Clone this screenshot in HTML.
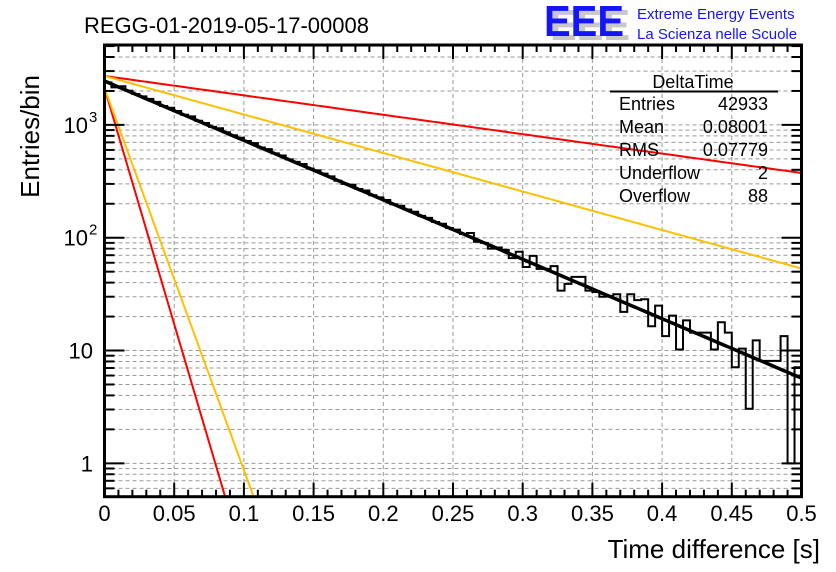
<!DOCTYPE html>
<html><head><meta charset="utf-8"><style>
html,body{margin:0;padding:0;background:#fff;}
svg{display:block;font-family:"Liberation Sans",sans-serif;}
</style></head><body>
<svg id="chart" width="836" height="572" viewBox="0 0 836 572" xmlns="http://www.w3.org/2000/svg">
<rect x="0" y="0" width="836" height="572" fill="#fff"/>
<text x="84" y="33" font-size="22" fill="#000">REGG-01-2019-05-17-00008</text>
<g>
<text x="550" y="40" font-size="44" font-weight="bold" fill="#c8c8c8" textLength="80" lengthAdjust="spacingAndGlyphs">EEE</text>
<text x="544" y="36" font-size="44" font-weight="bold" fill="#1414ff" textLength="80" lengthAdjust="spacingAndGlyphs">EEE</text>
<text x="637" y="19" font-size="15" fill="#1414ff">Extreme Energy Events</text>
<text x="637" y="39" font-size="15" fill="#1414ff">La Scienza nelle Scuole</text>
</g>
<g id="grid"></g>
<g id="series"></g>
<g id="axes"></g>
<g font-size="18" fill="#000">
<text x="693" y="88" text-anchor="middle">DeltaTime</text>
<line x1="610" y1="91.5" x2="778" y2="91.5" stroke="#000" stroke-width="2"/>
<text x="619" y="110">Entries</text><text x="768" y="110" text-anchor="end">42933</text>
<text x="619" y="133">Mean</text><text x="768" y="133" text-anchor="end">0.08001</text>
<text x="619" y="156">RMS</text><text x="768" y="156" text-anchor="end">0.07779</text>
<text x="619" y="179">Underflow</text><text x="768" y="179" text-anchor="end">2</text>
<text x="619" y="202">Overflow</text><text x="768" y="202" text-anchor="end">88</text>
</g>
<text x="820" y="558" font-size="26" text-anchor="end">Time difference [s]</text>
<text transform="translate(39,75) rotate(-90)" font-size="26" text-anchor="end">Entries/bin</text>
</svg>
<script>
const binCounts = [2380,2150,2200,2010,1880,1790,1700,1600,1470,1420,1330,1230,1190,1090,1040,960,935,860,810,770,720,690,630,610,560,535,495,470,450,410,395,370,350,320,300,295,270,262,238,228,216,198,192,178,170,156,150,138,133,122,118,108,110,92,90,80,82,78,66,75,55,69,53,53,56,34,39,45,45,34,33,30,30.5,31.5,22,31.5,28,28.5,16.4,25,13.4,20.4,10.2,18.5,14.4,14.4,14.4,10.2,17.8,14.4,7.1,10.4,3.05,12.3,8.1,8.1,8.1,13.4,1,7.1];
const binRange = [0, 0.5];
const xTicks = [0,0.05,0.1,0.15,0.2,0.25,0.3,0.35,0.4,0.45,0.5];
const xTickLabels = ["0","0.05","0.1","0.15","0.2","0.25","0.3","0.35","0.4","0.45","0.5"];
const yDecades = [1,10,100,1000];
const yDecadeLabels = ["1","10","10|2","10|3"];
const fitNames = ["fit","red-slow","yellow-slow","red-fast","yellow-fast"];
const fitAmps = [2450,2715,2715,2125,2125];
const fitSlopes = [12.13,3.96,7.86,96.4,78];
const fitColors = ["#000","#f00","#ffc000","#f00","#ffc000"];

const X0=104.5, X1=801.5, Y0=496.7, Y1=45;
const yMin=0.506, yMax=5110;
const NS="http://www.w3.org/2000/svg";
function xs(v){return X0+(v-binRange[0])/(binRange[1]-binRange[0])*(X1-X0);}
function ys(v){return Y0-(Math.log10(v)-Math.log10(yMin))/(Math.log10(yMax)-Math.log10(yMin))*(Y0-Y1);}
function mk(tag,attrs,parent){const e=document.createElementNS(NS,tag);for(const k in attrs)e.setAttribute(k,attrs[k]);parent.appendChild(e);return e;}
const grid=document.getElementById('grid'), series=document.getElementById('series'), axes=document.getElementById('axes');

// grid
xTicks.forEach(t=>{if(t>binRange[0]&&t<binRange[1]){const l=mk('line',{x1:xs(t),x2:xs(t),y1:Y1,y2:Y0,stroke:'#999','stroke-width':1,'stroke-dasharray':'4,3'},grid);

}});
for(let d=0.1; d<=1000; d*=10){for(let m=1;m<=9;m++){const v=d*m;if(v>yMin&&v<yMax){const y=ys(v);const l=mk('line',{x1:X0,x2:X1,y1:y,y2:y,stroke:'#999','stroke-width':1,'stroke-dasharray':'4,3'},grid);

}}}

// fit lines
fitAmps.forEach((A,i)=>{let pts=[];for(let k=0;k<=400;k++){const x=binRange[0]+(binRange[1]-binRange[0])*k/400;const v=A*Math.exp(-fitSlopes[i]*x);if(v<yMin){const xe=Math.log(A/yMin)/fitSlopes[i];pts.push(xs(xe)+','+Y0);break;}pts.push(xs(x).toFixed(2)+','+ys(v).toFixed(2));}
const p=mk('polyline',{points:pts.join(' '),fill:'none',stroke:fitColors[i],'stroke-width':i==0?3.5:2},series);

});

// histogram
const bw=(binRange[1]-binRange[0])/binCounts.length;
let d='';binCounts.forEach((c,i)=>{const xa=xs(binRange[0]+i*bw), xb=xs(binRange[0]+(i+1)*bw), y=ys(c);d+=(i==0?'M'+xa+','+y:'L'+xa+','+y)+'L'+xb+','+y;});
const h=mk('path',{d:d,fill:'none',stroke:'#000','stroke-width':2},series);


// redraw fit on top lightly
const fl=series.firstChild; series.appendChild(fl);

// frame
const fr=mk('rect',{x:X0,y:Y1,width:X1-X0,height:Y0-Y1,fill:'none',stroke:'#000','stroke-width':3},axes);


// x ticks
for(let k=0;k<=50;k++){const v=k*0.01;const x=xs(v);const major=(k%5==0);const len=major?14:7;
mk('line',{x1:x,x2:x,y1:Y0,y2:Y0-len,stroke:'#000','stroke-width':2},axes);
mk('line',{x1:x,x2:x,y1:Y1,y2:Y1+len,stroke:'#000','stroke-width':2},axes);}
xTicks.forEach((t,i)=>{const tx=mk('text',{x:xs(t),y:521,'font-size':22,'text-anchor':'middle'},axes);tx.textContent=xTickLabels[i];

});
// y ticks
for(let d2=0.1; d2<=1000; d2*=10){for(let m=1;m<=9;m++){const v=d2*m;if(v>yMin&&v<yMax){const y=ys(v);const len=(m==1)?20:10;
mk('line',{x1:X0,x2:X0+len,y1:y,y2:y,stroke:'#000','stroke-width':2},axes);
mk('line',{x1:X1,x2:X1-len,y1:y,y2:y,stroke:'#000','stroke-width':2},axes);}}}
yDecades.forEach((v,i)=>{const y=ys(v);const parts=yDecadeLabels[i].split('|');const t=mk('text',{x:parts.length>1?88:93,y:y+8,'font-size':22,'text-anchor':'end'},axes);t.textContent=parts[0];


if(parts.length>1){const s=mk('text',{x:89,y:y-3,'font-size':15},axes);s.textContent=parts[1];

}});
</script>
</body></html>
